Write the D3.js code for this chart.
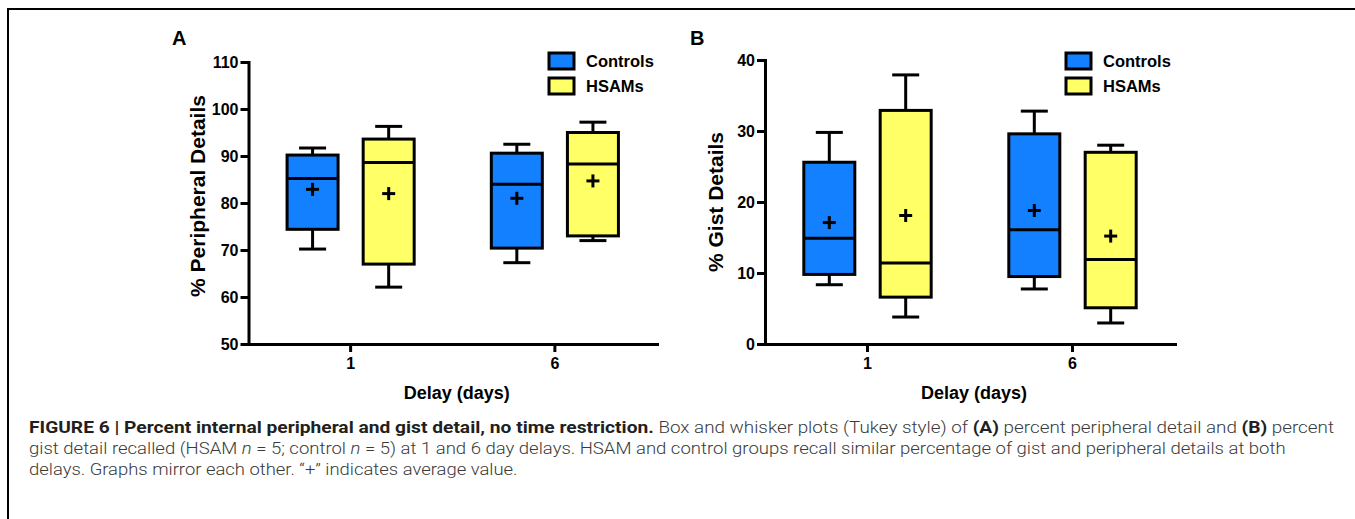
<!DOCTYPE html>
<html><head><meta charset="utf-8">
<script src="https://cdn.jsdelivr.net/npm/d3@7"></script>
<style>body{margin:0;background:#fff}svg{display:block}</style>
</head><body><svg id="c" width="1355" height="519"></svg>
<script>
// ---------- data ----------
const delays = ["1", "6"];
const groups = ["Controls", "HSAMs"];
const groupColors = ["#1380ff", "#ffff66"];
const peripheralTicks = [50, 60, 70, 80, 90, 100, 110];
const gistTicks = [0, 10, 20, 30, 40];
// min / q1 / median / q3 / max / mean  (Tukey box plots, "+" = mean)
const peripheralControls = [
  {delay: "1", min: 70.2, q1: 74.4, median: 85.2, q3: 90.2, max: 91.7, mean: 82.9},
  {delay: "6", min: 67.3, q1: 70.4, median: 84.0, q3: 90.6, max: 92.5, mean: 81.0}
];
const peripheralHSAMs = [
  {delay: "1", min: 62.1, q1: 67.0, median: 88.6, q3: 93.6, max: 96.3, mean: 82.0},
  {delay: "6", min: 72.0, q1: 73.0, median: 88.3, q3: 95.0, max: 97.2, mean: 84.7}
];
const gistControls = [
  {delay: "1", min: 8.35, q1: 9.8, median: 14.9, q3: 25.6, max: 29.8, mean: 17.1},
  {delay: "6", min: 7.75, q1: 9.5, median: 16.1, q3: 29.6, max: 32.8, mean: 18.8}
];
const gistHSAMs = [
  {delay: "1", min: 3.8, q1: 6.6, median: 11.4, q3: 32.9, max: 37.9, mean: 18.1},
  {delay: "6", min: 2.96, q1: 5.1, median: 11.9, q3: 27.0, max: 28.0, mean: 15.2}
];
const xTitle = "Delay (days)";

// ---------- layout ----------
const panels = [
  {label: "A", title: "% Peripheral Details", domain: [50, 110], ticks: peripheralTicks,
   series: [peripheralControls, peripheralHSAMs],
   x0: 248.5, x1: 657, yTop: 62, yBottom: 344, labelX: 172, titleX: 205, titleY: 196, legendX: 549},
  {label: "B", title: "% Gist Details", domain: [0, 40], ticks: gistTicks,
   series: [gistControls, gistHSAMs],
   x0: 765, x1: 1175, yTop: 60, yBottom: 344, labelX: 690, titleX: 723, titleY: 202, legendX: 1066}
];
const FONT = "Arial, 'Liberation Sans', Helvetica, sans-serif";
const boxW = 51, capW = 27, plus = 13, SW = 3;

const svg = d3.select("#c");
svg.append("rect").attr("width", 1355).attr("height", 519).attr("fill", "#fff");
// frame
svg.append("path").attr("d", "M8,519V9H1355").attr("fill", "none").attr("stroke", "#000").attr("stroke-width", 2);

panels.forEach(p => {
  const g = svg.append("g");
  const x = d3.scaleBand().domain(delays).range([p.x0, p.x1]);
  const xg = d3.scalePoint().domain(groups).range([0, x.bandwidth()]).padding(0.842);
  const y = d3.scaleLinear().domain(p.domain).range([p.yBottom, p.yTop]);

  // axes
  const ya = g.append("g").attr("transform", `translate(${p.x0},0)`)
    .call(d3.axisLeft(y).tickValues(p.ticks).tickSize(8).tickSizeOuter(0).tickPadding(2));
  const xa = g.append("g").attr("transform", `translate(0,${p.yBottom})`)
    .call(d3.axisBottom(x).tickSize(8).tickSizeOuter(0).tickPadding(6));
  [ya, xa].forEach(a => {
    a.attr("font-family", FONT);
    a.select(".domain").attr("stroke-width", SW).attr("stroke-linecap", "square");
    a.selectAll(".tick line").attr("stroke-width", SW);
    a.selectAll(".tick text").attr("font-family", FONT).attr("font-weight", "bold")
      .attr("font-size", 16).attr("fill", "#000");
  });

  // boxes
  p.series.forEach((s, gi) => {
    const col = groupColors[gi];
    s.forEach(d => {
      const cx = x(d.delay) + xg(groups[gi]);
      const b = g.append("g").attr("stroke", "#000").attr("stroke-width", SW);
      b.append("line").attr("x1", cx).attr("x2", cx).attr("y1", y(d.max)).attr("y2", y(d.q3));
      b.append("line").attr("x1", cx).attr("x2", cx).attr("y1", y(d.q1)).attr("y2", y(d.min));
      b.append("line").attr("x1", cx - capW / 2).attr("x2", cx + capW / 2).attr("y1", y(d.max)).attr("y2", y(d.max));
      b.append("line").attr("x1", cx - capW / 2).attr("x2", cx + capW / 2).attr("y1", y(d.min)).attr("y2", y(d.min));
      b.append("rect").attr("x", cx - boxW / 2).attr("width", boxW)
        .attr("y", y(d.q3)).attr("height", y(d.q1) - y(d.q3)).attr("fill", col);
      b.append("line").attr("x1", cx - boxW / 2).attr("x2", cx + boxW / 2).attr("y1", y(d.median)).attr("y2", y(d.median));
      b.append("line").attr("x1", cx - plus / 2).attr("x2", cx + plus / 2).attr("y1", y(d.mean)).attr("y2", y(d.mean));
      b.append("line").attr("x1", cx).attr("x2", cx).attr("y1", y(d.mean) - plus / 2).attr("y2", y(d.mean) + plus / 2);
    });
  });

  // titles
  g.append("text").attr("x", p.labelX).attr("y", 45).attr("font-family", FONT)
    .attr("font-weight", "bold").attr("font-size", 20).text(p.label);
  g.append("text").attr("transform", `translate(${p.titleX},${p.titleY}) rotate(-90)`)
    .attr("text-anchor", "middle").attr("font-family", FONT).attr("font-weight", "bold")
    .attr("font-size", 21).text(p.title);
  g.append("text").attr("x", (p.x0 + p.x1) / 2 + 4).attr("y", 399).attr("text-anchor", "middle")
    .attr("font-family", FONT).attr("font-weight", "bold").attr("font-size", 18).text(xTitle);

  // legend
  groups.forEach((name, i) => {
    const ly = 53 + i * 25;
    g.append("rect").attr("x", p.legendX).attr("y", ly).attr("width", 25).attr("height", 16)
      .attr("fill", groupColors[i]).attr("stroke", "#000").attr("stroke-width", SW);
    g.append("text").attr("x", p.legendX + 37).attr("y", ly + 14).attr("font-family", FONT)
      .attr("font-weight", "bold").attr("font-size", 16.5).text(name);
  });
});

// ---------- caption ----------
const captionLines = [
  [["b", "FIGURE 6 | Percent internal peripheral and gist detail, no time restriction."],
   ["r", " Box and whisker plots (Tukey style) of "], ["b", "(A)"],
   ["r", " percent peripheral detail and "], ["b", "(B)"], ["r", " percent"]],
  [["r", "gist detail recalled (HSAM "], ["i", "n"], ["r", " = 5; control "], ["i", "n"],
   ["r", " = 5) at 1 and 6 day delays. HSAM and control groups recall similar percentage of gist and peripheral details at both"]],
  [["r", "delays. Graphs mirror each other. \u201C+\u201D indicates average value."]]
];
const captionEnds = [1334, 1287, 518];
const capFont = "Roboto, 'Liberation Sans', Arial, sans-serif";
captionLines.forEach((line, li) => {
  const t = svg.append("text").attr("font-family", capFont).attr("font-size", 16)
    .attr("transform", `translate(29,${433 + li * 21})`);
  line.forEach(([k, s]) => {
    t.append("tspan").text(s)
      .attr("font-weight", k === "b" ? 700 : 300)
      .attr("font-size", k === "b" ? 16.3 : 16)
      .attr("font-style", k === "i" ? "italic" : "normal")
      .attr("fill", k === "b" ? "#231f20" : "#3a3a3a");
  });
  const w = t.node().getComputedTextLength();
  t.attr("transform", `translate(29,${433 + li * 21}) scale(${(captionEnds[li] - 29) / w},1)`);
});
</script></body></html>
